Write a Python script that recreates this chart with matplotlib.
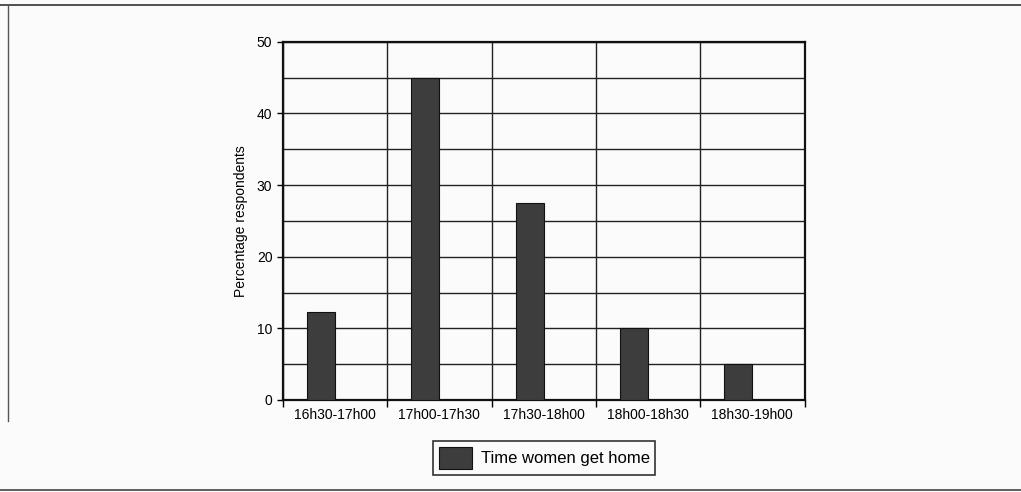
import numpy as np
import matplotlib.pyplot as plt
from matplotlib.lines import Line2D

plt.rcParams['font.family'] = ['Liberation Sans', 'DejaVu Sans']

categories = ['16h30-17h00', '17h00-17h30', '17h30-18h00', '18h00-18h30', '18h30-19h00']
values = [12.3, 45.0, 27.5, 10.0, 5.0]
series_name = 'Time women get home'

fig = plt.figure(figsize=(10.21, 4.92), dpi=100, facecolor='#fbfbfb')
ax = fig.add_axes([0.277, 0.187, 0.511, 0.728])
ax.set_facecolor('#fbfbfb')

x = np.arange(len(categories))
ax.bar(x - 0.135, values, width=0.27, color='#3d3d3d', edgecolor='#111111',
       linewidth=0.8, label=series_name, zorder=3)

ax.set_xlim(-0.5, len(categories) - 0.5)
ax.set_ylim(0, 50)
ax.set_yticks([0, 10, 20, 30, 40, 50])
ax.set_yticks(np.arange(0, 51, 5), minor=True)
ax.yaxis.grid(True, which='both', color='#222222', linewidth=1.0, zorder=0)
ax.set_xticks(x)
ax.set_xticklabels(categories, fontsize=10)
ax.set_xticks(np.arange(-0.5, len(categories)), minor=True)
ax.xaxis.grid(True, which='minor', color='#222222', linewidth=1.0, zorder=0)
ax.tick_params(axis='x', which='major', length=0, pad=6)
ax.tick_params(axis='x', which='minor', length=5, width=1, direction='out')
ax.tick_params(axis='y', which='major', labelsize=10, length=4, width=1)
ax.tick_params(axis='y', which='minor', length=0)
for s in ax.spines.values():
    s.set_linewidth(1.6)
    s.set_color('#111111')
ax.set_ylabel('Percentage respondents', fontsize=10, labelpad=6)

leg = fig.legend(loc='center', bbox_to_anchor=(0.533, 0.069), fontsize=12,
                 fancybox=False, edgecolor='#333333', framealpha=1,
                 facecolor='#fbfbfb', handlelength=2.0, handleheight=1.7,
                 borderpad=0.35, handletextpad=0.5)
leg.get_frame().set_linewidth(1.2)

# page frame lines
fig.add_artist(Line2D([0.0, 1.0], [0.99, 0.99], color='#333333', linewidth=1.2))
fig.add_artist(Line2D([0.008, 0.008], [0.99, 0.145], color='#555555', linewidth=1.0))
fig.add_artist(Line2D([0.0, 1.0], [0.004, 0.004], color='#444444', linewidth=1.2))

fig.savefig('out.png', dpi=100, facecolor=fig.get_facecolor())
